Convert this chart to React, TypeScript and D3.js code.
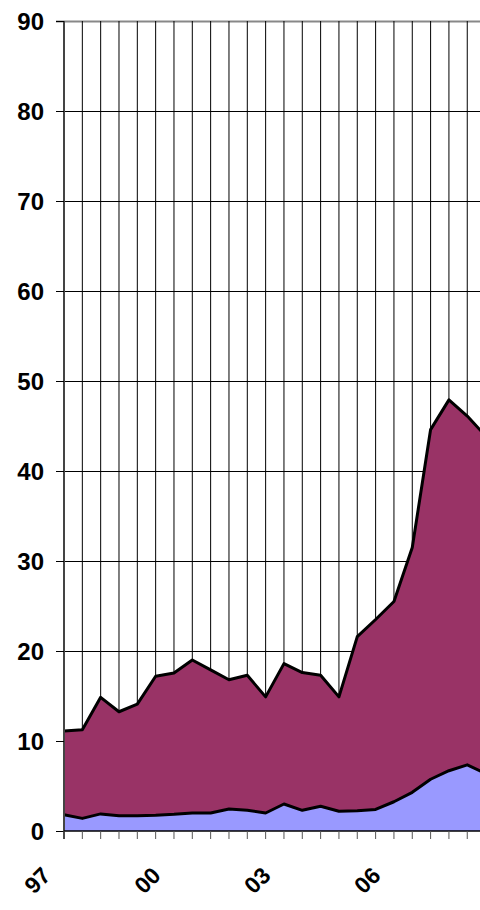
import React, { useRef, useEffect } from 'react';
import * as d3 from 'd3';

// half-year periods, 1997 H1 onward
const periods = ['97', '97b', '98', '98b', '99', '99b', '00', '00b', '01', '01b', '02', '02b', '03', '03b', '04', '04b', '05', '05b', '06', '06b', '07', '07b', '08', '08b'];
const tickLabels = ['97', '00', '03', '06'];
const yTicks = [0, 10, 20, 30, 40, 50, 60, 70, 80, 90];

const lowerSeries = [1.8, 1.4, 1.9, 1.7, 1.7, 1.75, 1.85, 2.0, 2.0, 2.45, 2.3, 2.0, 3.0, 2.3, 2.75, 2.2, 2.25, 2.4, 3.25, 4.3, 5.75, 6.7, 7.35, 6.4];
const upperSeries = [9.3, 9.85, 12.95, 11.55, 12.4, 15.45, 15.7, 17.0, 15.9, 14.35, 15.0, 12.9, 15.6, 15.3, 14.55, 12.7, 19.35, 21.1, 22.25, 27.2, 38.85, 41.2, 38.75, 37.5];

const App = () => {
    const ref = useRef(null);

    useEffect(() => {
        const width = 480, height = 910;
        const svg = d3.select(ref.current)
            .attr('width', width)
            .attr('height', height)
            .style('background-color', 'white');
        svg.selectAll('*').remove();

        const step = 18.33;
        const x = d3.scalePoint()
            .domain(periods)
            .range([64, 64 + step * (periods.length - 1)]);
        const y = d3.scaleLinear().domain([0, 90]).range([831, 21]);

        const rows = periods.map((p, i) => ({ p, lower: lowerSeries[i], upper: upperSeries[i] }));
        const stacked = d3.stack().keys(['lower', 'upper'])(rows);
        const colors = ['#9999ff', '#993366'];

        const grid = svg.append('g');
        // horizontal grid
        grid.selectAll('line.h')
            .data(yTicks.slice(1))
            .enter().append('line')
            .attr('x1', 56).attr('x2', width)
            .attr('y1', d => Math.round(y(d)) + 0.5)
            .attr('y2', d => Math.round(y(d)) + 0.5)
            .attr('stroke', d => d === 90 ? '#888' : '#000')
            .attr('stroke-width', d => d === 90 ? 2 : 1);
        // vertical grid
        grid.selectAll('line.v')
            .data(periods.slice(1))
            .enter().append('line')
            .attr('x1', d => x(d)).attr('x2', d => x(d))
            .attr('y1', y(90)).attr('y2', y(0))
            .attr('stroke', '#000')
            .attr('stroke-width', 1);

        const area = d3.area()
            .x((d, i) => x(periods[i]))
            .y0(d => y(d[0]))
            .y1(d => y(d[1]));
        const line = d3.line()
            .x((d, i) => x(periods[i]))
            .y(d => y(d[1]));

        const plot = svg.append('g');
        plot.selectAll('path.area')
            .data(stacked)
            .enter().append('path')
            .attr('d', area)
            .attr('fill', (d, i) => colors[i]);
        plot.selectAll('path.line')
            .data(stacked)
            .enter().append('path')
            .attr('d', line)
            .attr('fill', 'none')
            .attr('stroke', '#000')
            .attr('stroke-width', 3)
            .attr('stroke-linejoin', 'round');

        // left edge of areas
        plot.append('line')
            .attr('x1', 64).attr('x2', 64)
            .attr('y1', y(0)).attr('y2', y(lowerSeries[0] + upperSeries[0]))
            .attr('stroke', '#000').attr('stroke-width', 2);

        // y axis
        svg.append('line')
            .attr('x1', 64).attr('x2', 64)
            .attr('y1', y(90)).attr('y2', y(0) + 8)
            .attr('stroke', '#444').attr('stroke-width', 2);
        svg.selectAll('line.ytick')
            .data(yTicks)
            .enter().append('line')
            .attr('x1', 56).attr('x2', 64)
            .attr('y1', d => Math.round(y(d)) + 0.5)
            .attr('y2', d => Math.round(y(d)) + 0.5)
            .attr('stroke', '#000');
        svg.selectAll('text.ylab')
            .data(yTicks)
            .enter().append('text')
            .attr('x', 44)
            .attr('y', d => y(d) + 9)
            .attr('text-anchor', 'end')
            .style('font-family', 'Arial, "Liberation Sans", sans-serif')
            .style('font-weight', 'bold')
            .style('font-size', '24px')
            .text(d => d);

        // x axis
        svg.append('line')
            .attr('x1', 64).attr('x2', width)
            .attr('y1', y(0)).attr('y2', y(0))
            .attr('stroke', '#000').attr('stroke-width', 1.5);
        svg.selectAll('line.xtick')
            .data(periods)
            .enter().append('line')
            .attr('x1', d => x(d)).attr('x2', d => x(d))
            .attr('y1', y(0)).attr('y2', y(0) + 8)
            .attr('stroke', '#555');
        svg.selectAll('text.xlab')
            .data(tickLabels)
            .enter().append('text')
            .attr('transform', d => `translate(${x(d) - 12}, ${y(0) + 46}) rotate(-45)`)
            .attr('text-anchor', 'end')
            .style('font-family', 'Arial, "Liberation Sans", sans-serif')
            .style('font-weight', 'bold')
            .style('font-size', '23px')
            .text(d => d);
    }, []);

    return (
        <div style={{ position: 'absolute', left: 0, top: 0 }}>
            <svg ref={ref} style={{ display: 'block' }}></svg>
        </div>
    );
};

export default App;
